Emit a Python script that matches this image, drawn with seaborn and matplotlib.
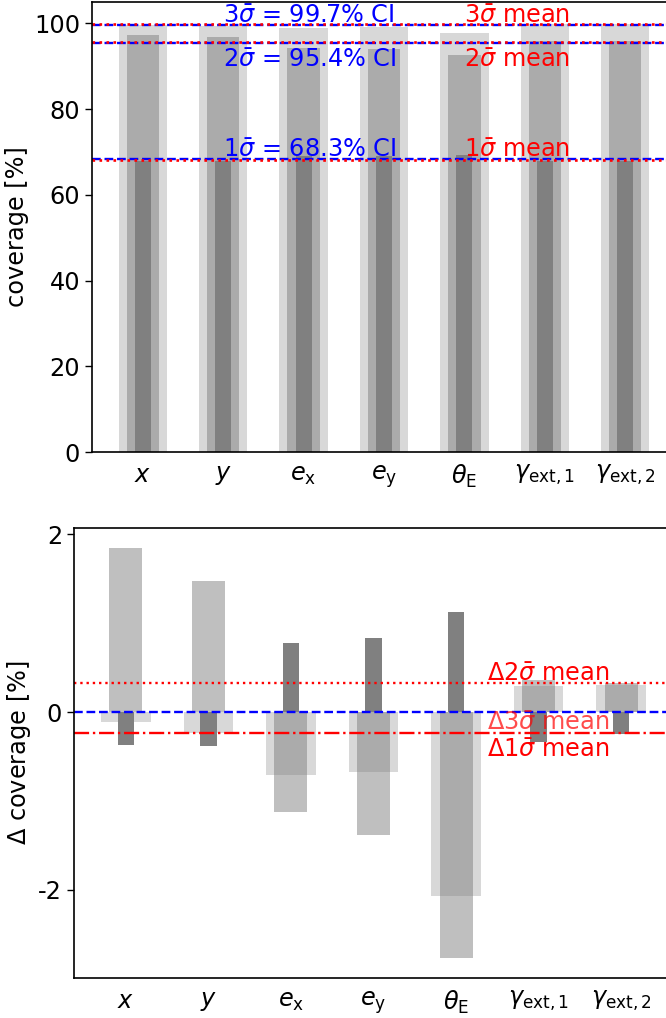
import numpy as np
import matplotlib
matplotlib.use("Agg")
import matplotlib.pyplot as plt
import seaborn as sns

# parameters on the x axis
params = [r"$x$", r"$y$", r"$e_\mathrm{x}$", r"$e_\mathrm{y}$",
          r"$\theta_\mathrm{E}$", r"$\gamma_\mathrm{ext,1}$", r"$\gamma_\mathrm{ext,2}$"]

# coverage [%] per credible level
cov_3sig = [99.6, 99.5, 99.0, 99.1, 97.7, 99.9, 99.9]
cov_2sig = [97.3, 96.9, 94.3, 94.1, 92.7, 95.8, 95.8]
cov_1sig = [67.9, 67.9, 69.1, 69.1, 69.4, 67.9, 68.0]

# nominal levels and mean coverages
nominal_exact = [68.27, 95.45, 99.73]
mean_cov = [68.03, 95.78, 99.85]

# delta coverage [%] (coverage - nominal)
dcov_3sig = [-0.11, -0.24, -0.71, -0.67, -2.07, 0.29, 0.30]
dcov_2sig = [1.84, 1.47, -1.12, -1.38, -2.76, 0.36, 0.33]
dcov_1sig = [-0.37, -0.38, 0.78, 0.83, 1.13, -0.34, -0.25]
dmean_2sig = 0.33
dmean_1sig = -0.24

sns.set_style("white")
plt.rcParams["font.family"] = ["DejaVu Sans"]
plt.rcParams["font.size"] = 17.3
plt.rcParams["axes.unicode_minus"] = False
plt.rcParams["text.color"] = "black"
plt.rcParams["axes.labelcolor"] = "black"
plt.rcParams["xtick.color"] = "black"
plt.rcParams["ytick.color"] = "black"

fig = plt.figure(figsize=(6.66, 10.18), dpi=100)
ax1 = fig.add_axes([92 / 666, 1 - 452 / 1018, 584 / 666, 450 / 1018])
ax2 = fig.add_axes([74 / 666, 1 - 978 / 1018, 599 / 666, 450 / 1018])

levels = [(0.6, 0.3), (0.4, 0.5), (0.2, 1.0)]

# top panel: coverage
for vals, (w, a) in zip([cov_3sig, cov_2sig, cov_1sig], levels):
    sns.barplot(x=params, y=vals, ax=ax1, color="grey", alpha=a, width=w,
                saturation=1, linewidth=0)

for val in nominal_exact:
    ax1.axhline(val, color="blue", ls="--", lw=1.7)
for val in mean_cov:
    ax1.axhline(val, color="red", ls=":", lw=1.9)

ax1.text(1.0, 98.9, r"$3\bar{\sigma}$ = 99.7% CI", color="blue", va="bottom", ha="left")
ax1.text(1.0, 94.3, r"$2\bar{\sigma}$ = 95.4% CI", color="blue", va="top", ha="left")
ax1.text(1.0, 67.6, r"$1\bar{\sigma}$ = 68.3% CI", color="blue", va="bottom", ha="left")
ax1.text(4.0, 98.9, r"$3\bar{\sigma}$ mean", color="red", va="bottom", ha="left")
ax1.text(4.0, 94.3, r"$2\bar{\sigma}$ mean", color="red", va="top", ha="left")
ax1.text(4.0, 67.6, r"$1\bar{\sigma}$ mean", color="red", va="bottom", ha="left")

ax1.set_xlim(-0.63, 6.63)
ax1.set_ylim(0, 105)
ax1.set_yticks([0, 20, 40, 60, 80, 100])
ax1.set_ylabel("coverage [%]")

# bottom panel: delta coverage
for vals, (w, a) in zip([dcov_3sig, dcov_2sig, dcov_1sig], levels):
    sns.barplot(x=params, y=vals, ax=ax2, color="grey", alpha=a, width=w,
                saturation=1, linewidth=0)

ax2.axhline(0, color="blue", ls="--", lw=1.7)
ax2.axhline(dmean_2sig, color="red", ls=":", lw=1.7)
ax2.axhline(dmean_1sig, color="red", ls="-.", lw=1.7)

ax2.text(4.38, dmean_2sig - 0.04, r"$\Delta 2\bar{\sigma}$ mean", color="red", va="bottom", ha="left")
ax2.text(4.38, 0.01, r"$\Delta 3\bar{\sigma}$ mean", color="red", alpha=0.7, va="top", ha="left")
ax2.text(4.38, dmean_1sig - 0.05, r"$\Delta 1\bar{\sigma}$ mean", color="red", va="top", ha="left")

ax2.set_xlim(-0.63, 6.63)
ax2.set_ylim(-2.99, 2.07)
ax2.set_yticks([-2, 0, 2])
ax2.set_ylabel(r"$\Delta$ coverage [%]")

for ax in (ax1, ax2):
    ax.tick_params(axis="x", length=0, pad=8)
    ax.tick_params(axis="y", length=5, width=1, left=True)
    for sp in ax.spines.values():
        sp.set_color("black")
        sp.set_linewidth(1.2)

fig.savefig("out.png", dpi=100)
